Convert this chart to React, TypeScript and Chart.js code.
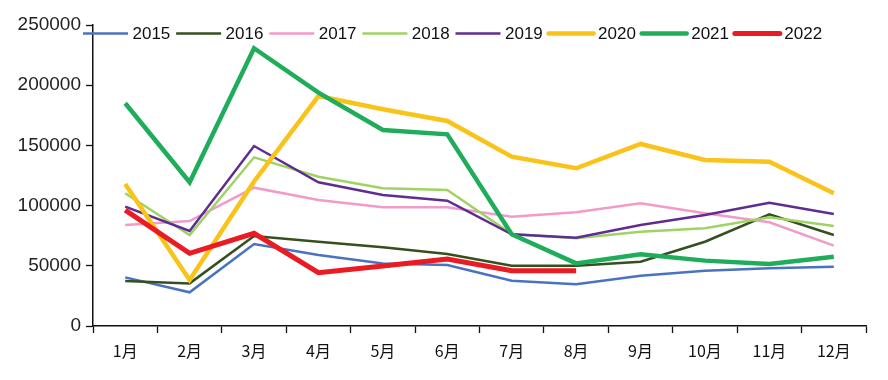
import React, { useEffect, useRef } from "react";
import { Chart, registerables } from "chart.js";

Chart.register(...registerables);

const months = ["1月", "2月", "3月", "4月", "5月", "6月", "7月", "8月", "9月", "10月", "11月", "12月"];

const v2015 = [40400, 28000, 68100, 59000, 52000, 50700, 37600, 34600, 41800, 45900, 47900, 49300];
const v2016 = [37400, 35400, 74800, 70000, 65400, 59800, 50100, 50100, 53400, 70000, 92800, 75600];
const v2017 = [83900, 87200, 114900, 104700, 98600, 98600, 90800, 94400, 101900, 93600, 86100, 66700];
const v2018 = [110200, 75600, 140100, 124000, 114400, 113000, 76400, 72800, 78300, 81100, 90300, 83100];
const v2019 = [99100, 78900, 149500, 119400, 108800, 104100, 76200, 73400, 83900, 92200, 102400, 93000];
const v2020 = [118000, 38200, 120000, 191000, 180000, 170300, 140600, 131000, 151200, 137900, 136500, 110200];
const v2021 = [185000, 119400, 230700, 193800, 162800, 159200, 76200, 52000, 59500, 54300, 51500, 57600];
const v2022 = [96300, 60400, 77000, 44300, 49800, 55600, 45900, 45900];

const seriesLabels = ["2015", "2016", "2017", "2018", "2019", "2020", "2021", "2022"];
const seriesValues = [v2015, v2016, v2017, v2018, v2019, v2020, v2021, v2022];
const seriesColors = ["#4a72c0", "#34501f", "#f29bc9", "#9fd363", "#5f2d91", "#f9c31a", "#1fad5c", "#ea1b23"];
const seriesWidths = [2.5, 2.5, 2.5, 2.5, 2.5, 4.5, 4.5, 5];

const yMin = 0;
const yMax = 250000;
const yStep = 50000;

const legendPlugin = {
  id: "topLegend",
  afterDraw(chart: any) {
    const ctx = chart.ctx;
    ctx.save();
    ctx.font = '17px "Liberation Sans", Arial, sans-serif';
    ctx.textBaseline = "middle";
    ctx.textAlign = "left";
    const y = 33.5;
    let x = 83;
    const items = [...chart.data.datasets].sort((a: any, b: any) => a.legendIndex - b.legendIndex);
    items.forEach((ds: any) => {
      ctx.strokeStyle = ds.borderColor;
      ctx.lineWidth = ds.borderWidth;
      ctx.lineCap = ds.borderWidth > 3 ? "round" : "butt";
      ctx.beginPath();
      ctx.moveTo(x, y);
      ctx.lineTo(x + 45, y);
      ctx.stroke();
      x += 45 + 4.5;
      ctx.fillStyle = "#111";
      ctx.fillText(ds.label, x, y + 1);
      x += ctx.measureText(ds.label).width + 5.8;
    });
    ctx.restore();
  },
};

export default function App() {
  const ref = useRef<HTMLCanvasElement>(null);

  useEffect(() => {
    document.body.style.margin = "0";
    const canvas = ref.current;
    if (!canvas) return;
    const datasets = seriesLabels.map((label, i) => ({
      label,
      data: seriesValues[i],
      borderColor: seriesColors[i],
      backgroundColor: seriesColors[i],
      borderWidth: seriesWidths[i],
      pointRadius: 0,
      tension: 0,
      fill: false,
      order: seriesLabels.length - 1 - i,
      legendIndex: i,
    }));
    const chart = new Chart(canvas, {
      type: "line",
      data: { labels: months, datasets: datasets as any },
      options: {
        responsive: false,
        animation: false,
        layout: { padding: { top: 25, right: 22, bottom: 0, left: 0 } },
        plugins: {
          legend: { display: false },
          tooltip: { enabled: false },
        },
        scales: {
          x: {
            offset: true,
            grid: {
              display: true,
              drawOnChartArea: false,
              offset: true,
              tickLength: 7,
              tickColor: "#111",
              tickWidth: 1.3,
            },
            border: { color: "#111", width: 1.5 },
            ticks: {
              color: "#111",
              padding: 8,
              font: { family: '"Noto Sans CJK SC", sans-serif', size: 16 },
              maxRotation: 0,
              autoSkip: false,
            },
            afterFit: (scale: any) => {
              scale.height = 54;
            },
          },
          y: {
            min: yMin,
            max: yMax,
            grid: {
              display: true,
              drawOnChartArea: false,
              tickLength: 7,
              tickColor: "#111",
              tickWidth: 1.3,
            },
            border: { color: "#111", width: 1.5 },
            ticks: {
              stepSize: yStep,
              color: "#222",
              padding: 5,
              font: { family: '"Liberation Sans", Arial, sans-serif', size: 19 },
              callback: (value: any) => String(value),
            },
            afterFit: (scale: any) => {
              scale.width = 93;
            },
          },
        },
      },
      plugins: [legendPlugin],
    });
    return () => chart.destroy();
  }, []);

  return (
    <div style={{ width: 888, height: 380, background: "#fff" }}>
      <canvas ref={ref} width={888} height={380} />
    </div>
  );
}
